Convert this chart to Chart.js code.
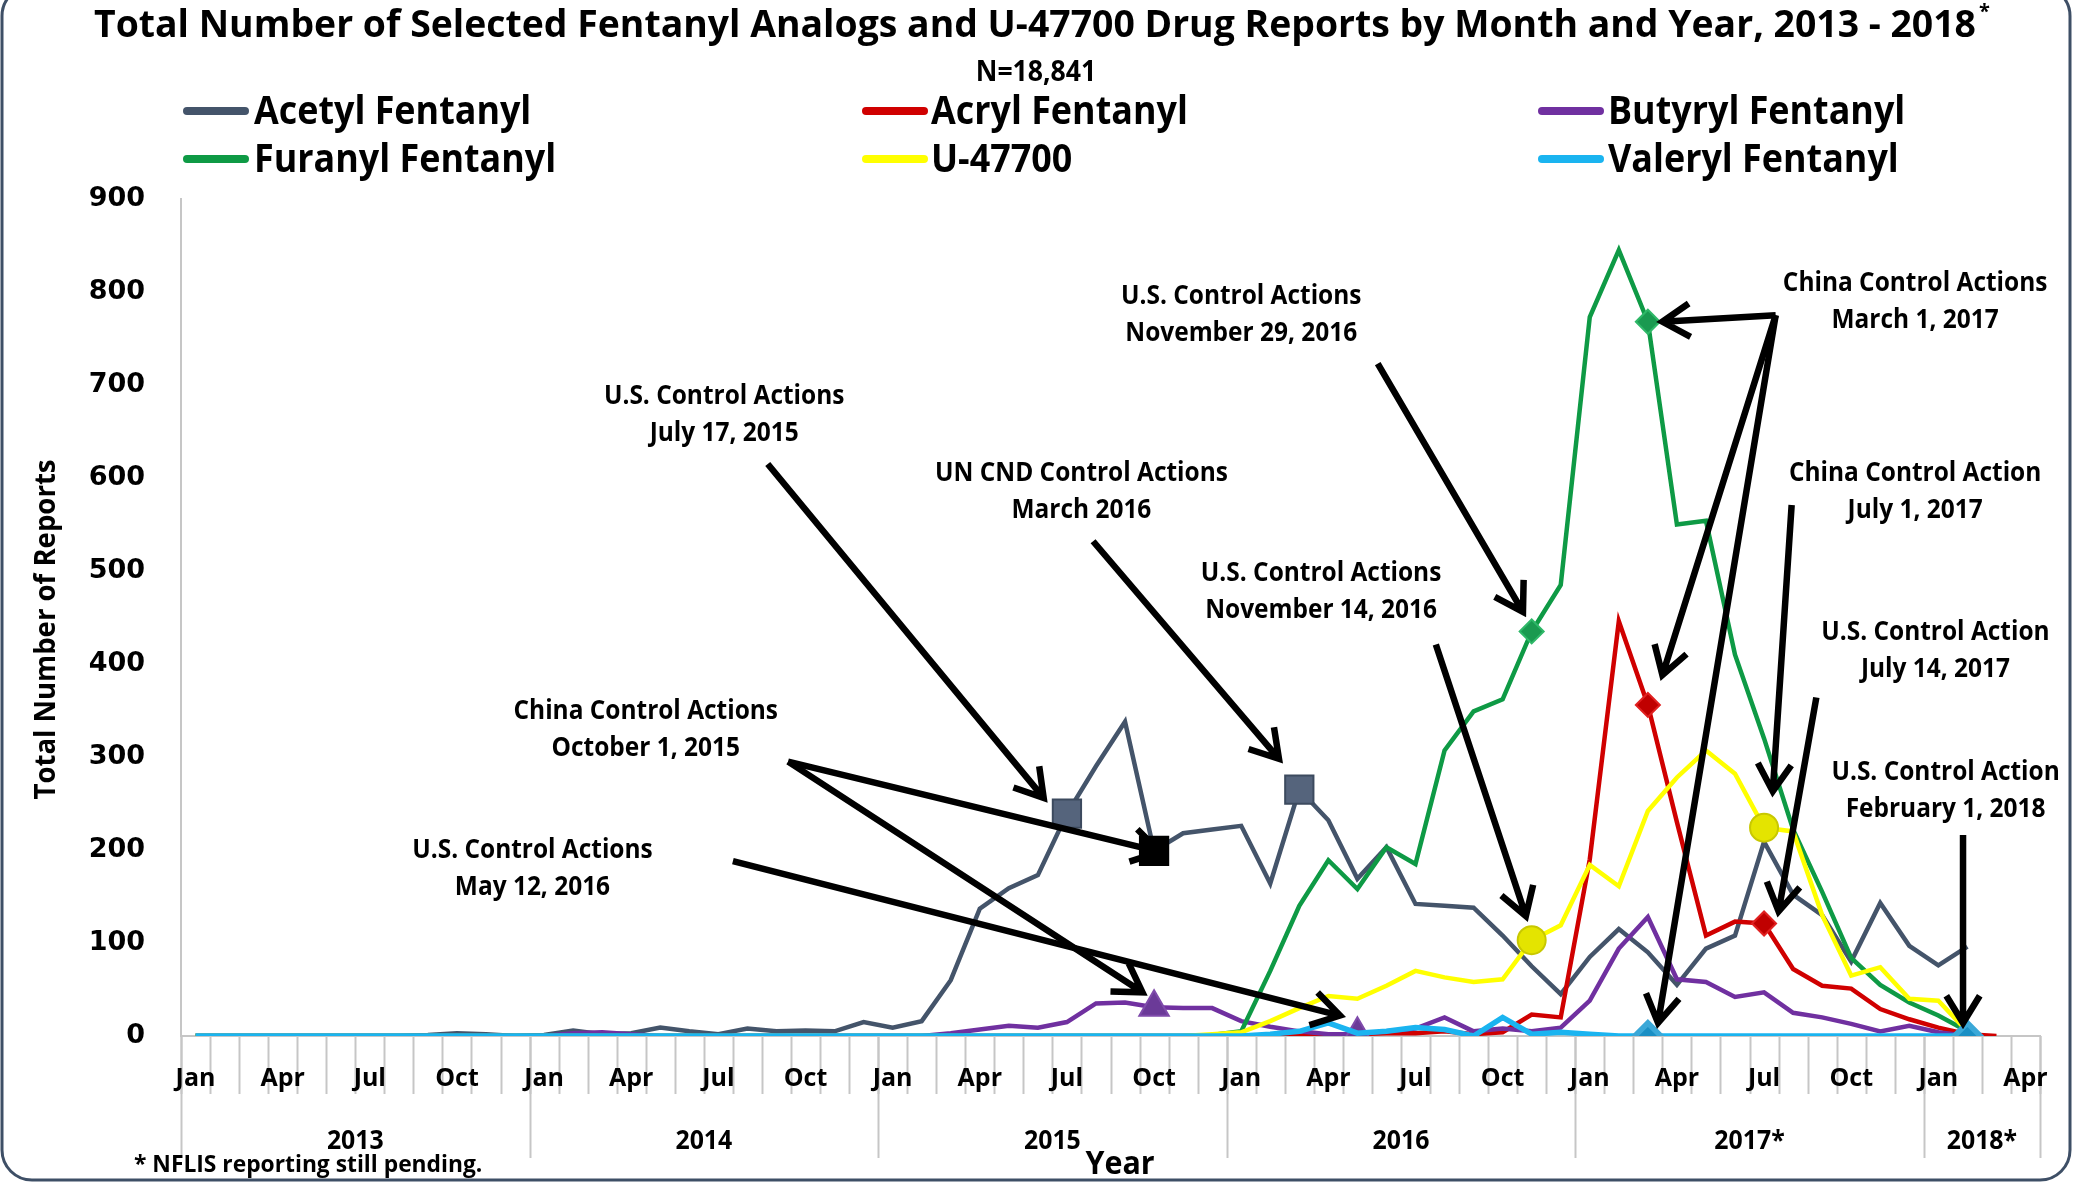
<!DOCTYPE html>
<html>
<head>
<meta charset="utf-8">
<title>Fentanyl Analogs and U-47700 Drug Reports</title>
<script src="https://cdn.jsdelivr.net/npm/chart.js@4.4.1/dist/chart.umd.min.js"></script>
<style>
  html, body { margin: 0; padding: 0; background: #fff; }
</style>
</head>
<body>
<canvas id="graph1" width="2082" height="1185"></canvas>
<script>
// categories: one per month, Jan 2013 - Apr 2018
var monthNames = ['Jan', 'Feb', 'Mar', 'Apr', 'May', 'Jun', 'Jul', 'Aug', 'Sep', 'Oct', 'Nov', 'Dec'];
var years = ['2013', '2014', '2015', '2016', '2017*', '2018*'];
var yearMonths = [12, 12, 12, 12, 12, 4];
var tickMonths = ['Jan', 'Apr', 'Jul', 'Oct'];

// monthly report counts
var acetyl = [0, 0, 0, 0, 0, 0, 0, 0, 1, 3, 2, 0,
  1, 6, 2, 3, 9, 5, 2, 8, 5, 6, 5, 15,
  9, 16, 60, 137, 159, 173, 239, 290, 338, 199, 218, 222,
  226, 164, 265, 232, 169, 203, 142, 140, 138, 108, 75, 45,
  85, 115, 90, 55, 94, 108, 209, 152, 130, 80, 143, 97,
  76, 96, null, null];
var acryl = [0, 0, 0, 0, 0, 0, 0, 0, 0, 0, 0, 0,
  0, 0, 0, 0, 0, 0, 0, 0, 0, 0, 0, 0,
  0, 0, 0, 0, 0, 0, 0, 0, 0, 0, 0, 0,
  0, 0, 0, 2, 2, 3, 3, 5, 2, 4, 23, 20,
  190, 446, 356, 230, 108, 123, 121, 72, 54, 51, 29, 18,
  9, 2, 0, null];
var butyryl = [0, 0, 0, 0, 0, 0, 0, 0, 0, 0, 0, 0,
  0, 3, 4, 2, 0, 0, 0, 0, 0, 0, 0, 0,
  0, 0, 3, 7, 11, 9, 15, 35, 36, 31, 30, 30,
  16, 10, 5, 2, 2, 5, 8, 20, 5, 8, 5, 9,
  38, 94, 128, 61, 58, 42, 47, 25, 20, 13, 5, 11,
  4, 0, null, null];
var furanyl = [0, 0, 0, 0, 0, 0, 0, 0, 0, 0, 0, 0,
  0, 0, 0, 0, 0, 0, 0, 0, 0, 0, 0, 0,
  0, 0, 0, 0, 0, 0, 0, 0, 0, 0, 0, 1,
  5, 70, 140, 189, 158, 203, 185, 307, 349, 362, 435, 485,
  773, 845, 768, 550, 554, 410, 320, 222, 155, 84, 55, 36,
  22, 5, null, null];
var u47700 = [0, 0, 0, 0, 0, 0, 0, 0, 0, 0, 0, 0,
  0, 0, 0, 0, 0, 0, 0, 0, 0, 0, 0, 0,
  0, 0, 0, 0, 0, 0, 0, 0, 0, 0, 0, 2,
  4, 16, 30, 43, 40, 54, 70, 63, 58, 61, 103, 119,
  184, 161, 242, 278, 307, 282, 224, 220, 130, 65, 74, 40,
  38, 5, null, null];
var valeryl = [0, 0, 0, 0, 0, 0, 0, 0, 0, 0, 0, 0,
  0, 0, 0, 0, 0, 0, 0, 0, 0, 0, 0, 0,
  0, 0, 0, 0, 0, 0, 0, 0, 0, 0, 0, 0,
  0, 2, 5, 14, 3, 5, 9, 7, 0, 20, 2, 4,
  2, 0, 0, 0, 0, 0, 0, 0, 0, 0, 0, 0,
  0, 0, null, null];

// months (category index) that carry a marker
var acetylMarks = [30, 38];
var acetylKeyMarks = [33];
var butyrylMarks = [33, 40];
var furanylMarks = [46, 50];
var u47700Marks = [46, 54];
var acrylMarks = [50, 54];
var valerylMarks = [50, 61];

// control action notes: text centre and arrows, in [month index, reports]
var notes = [
  { text: ['U.S. Control Actions', 'July 17, 2015'], at: [18.2, 668], arrows: [[19.7, 615, 29.2, 256]] },
  { text: ['UN CND Control Actions', 'March 2016'], at: [30.5, 585], arrows: [[30.9, 532, 37.3, 298]] },
  { text: ['U.S. Control Actions', 'November 29, 2016'], at: [36.0, 775], arrows: [[40.7, 723, 45.7, 456]] },
  { text: ['U.S. Control Actions', 'November 14, 2016'], at: [38.75, 477], arrows: [[42.7, 421, 45.8, 129]] },
  { text: ['China Control Actions', 'October 1, 2015'], at: [15.5, 329], arrows: [[20.4, 295, 33.2, 198], [20.4, 295, 32.6, 47]] },
  { text: ['U.S. Control Actions', 'May 12, 2016'], at: [11.6, 180], arrows: [[18.5, 188, 39.4, 22]] },
  { text: ['China Control Actions', 'March 1, 2017'], at: [59.2, 789], arrows: [[54.4, 775, 50.5, 768], [54.4, 775, 50.5, 388], [54.4, 775, 50.35, 14]] },
  { text: ['China Control Action', 'July 1, 2017'], at: [59.2, 585], arrows: [[54.95, 571, 54.3, 263]] },
  { text: ['U.S. Control Action', 'July 14, 2017'], at: [59.9, 414], arrows: [[55.8, 364, 54.5, 134]] },
  { text: ['U.S. Control Action', 'February 1, 2018'], at: [60.25, 263], arrows: [[60.85, 216, 60.85, 14]] }
];

var categories = [];
for (var k = 0; k < years.length; k++) {
  for (var m = 0; m < yearMonths[k]; m++) categories.push(monthNames[m]);
}

function sizesAt(marks, r) {
  return categories.map(function (c, i) { return marks.indexOf(i) >= 0 ? r : 0; });
}

var FONT = "'Open Sans', 'Noto Sans', sans-serif";

function arrow(ctx, x1, y1, x2, y2) {
  var a = Math.atan2(y2 - y1, x2 - x1), h = 32, w = 0.55;
  ctx.beginPath();
  ctx.moveTo(x1, y1);
  ctx.lineTo(x2, y2);
  ctx.moveTo(x2 - h * Math.cos(a - w), y2 - h * Math.sin(a - w));
  ctx.lineTo(x2, y2);
  ctx.lineTo(x2 - h * Math.cos(a + w), y2 - h * Math.sin(a + w));
  ctx.stroke();
}

function squeezed(ctx, text, x, y, sx, align) {
  ctx.save();
  ctx.translate(x, y);
  ctx.scale(sx, 1);
  ctx.textAlign = align || 'center';
  ctx.fillText(text, 0, 0);
  ctx.restore();
}

var decorations = {
  id: 'decorations',
  beforeDraw: function (chart) {
    var ctx = chart.ctx, x = chart.scales.x, area = chart.chartArea;
    var half = (x.getPixelForValue(1) - x.getPixelForValue(0)) / 2;
    ctx.save();
    ctx.fillStyle = '#fff';
    ctx.fillRect(0, 0, chart.width, chart.height);
    ctx.strokeStyle = '#c6c6c6';
    ctx.lineWidth = 2;
    for (var i = 0; i <= categories.length; i++) {
      var px = Math.round(x.getPixelForValue(i) - half) + 0.5;
      ctx.beginPath();
      ctx.moveTo(px, area.bottom);
      ctx.lineTo(px, area.bottom + 58);
      ctx.stroke();
    }
    // year groups
    var start = 0;
    ctx.fillStyle = '#000';
    ctx.font = 'bold 27px ' + FONT;
    ctx.textBaseline = 'middle';
    for (var k = 0; k <= years.length; k++) {
      var bx = Math.round(x.getPixelForValue(start) - half) + 0.5;
      ctx.beginPath();
      ctx.moveTo(bx, area.bottom);
      ctx.lineTo(bx, area.bottom + 122);
      ctx.stroke();
      if (k < years.length) {
        var cx = (x.getPixelForValue(start) + x.getPixelForValue(start + yearMonths[k] - 1)) / 2;
        squeezed(ctx, years[k], cx, area.bottom + 105, 0.92);
        start += yearMonths[k];
      }
    }
    ctx.restore();
  },
  afterDatasetsDraw: function (chart) {
    var ctx = chart.ctx, x = chart.scales.x, y = chart.scales.y;
    ctx.save();
    ctx.strokeStyle = '#000';
    ctx.lineWidth = 6.5;
    notes.forEach(function (n) {
      n.arrows.forEach(function (a) {
        arrow(ctx, x.getPixelForValue(a[0]), y.getPixelForValue(a[1]),
          x.getPixelForValue(a[2]), y.getPixelForValue(a[3]));
      });
    });
    ctx.fillStyle = '#000';
    ctx.font = 'bold 26px ' + FONT;
    ctx.textBaseline = 'middle';
    notes.forEach(function (n) {
      var cx = x.getPixelForValue(n.at[0]), cy = y.getPixelForValue(n.at[1]);
      squeezed(ctx, n.text[0], cx, cy - 18.5, 0.94);
      squeezed(ctx, n.text[1], cx, cy + 18.5, 0.94);
    });
    ctx.restore();
  },
  afterDraw: function (chart) {
    var ctx = chart.ctx, area = chart.chartArea;
    ctx.save();
    ctx.fillStyle = '#000';
    ctx.textBaseline = 'alphabetic';
    // title
    var title = 'Total Number of Selected Fentanyl Analogs and U-47700 Drug Reports by Month and Year, 2013 - 2018';
    ctx.font = 'bold 38px ' + FONT;
    var tw = ctx.measureText(title).width, sx = 1882 / tw;
    squeezed(ctx, title, 1035, 37, sx);
    ctx.font = 'bold 20px ' + FONT;
    ctx.fillText('*', 1035 + tw * sx / 2 + 3, 18);
    ctx.font = 'bold 28px ' + FONT;
    squeezed(ctx, 'N=18,841', 1036, 81, 0.95);
    // legend
    var colLine = [183, 862, 1538], colText = [254, 931, 1608], rowY = [111, 159];
    ctx.font = 'bold 39px ' + FONT;
    ctx.textBaseline = 'middle';
    chart.data.datasets.forEach(function (ds, i) {
      var c = i % 3, r = Math.floor(i / 3);
      ctx.strokeStyle = ds.borderColor;
      ctx.lineWidth = 8;
      ctx.lineCap = 'round';
      ctx.beginPath();
      ctx.moveTo(colLine[c] + 4, rowY[r]);
      ctx.lineTo(colLine[c] + 62, rowY[r]);
      ctx.stroke();
      squeezed(ctx, ds.label, colText[c], rowY[r] + 2, 0.92, 'left');
    });
    // axis titles and footnote
    ctx.save();
    ctx.translate(47, (area.top + area.bottom) / 2 + 12);
    ctx.rotate(-Math.PI / 2);
    ctx.font = 'bold 29px ' + FONT;
    squeezed(ctx, 'Total Number of Reports', 0, 0, 0.95);
    ctx.restore();
    ctx.font = 'bold 32px ' + FONT;
    squeezed(ctx, 'Year', 1120, 1165, 0.95);
    ctx.font = 'bold 24px ' + FONT;
    squeezed(ctx, '* NFLIS reporting still pending.', 134, 1165, 0.95, 'left');
    // rounded frame
    ctx.strokeStyle = '#3e4f66';
    ctx.lineWidth = 3;
    ctx.beginPath();
    ctx.roundRect(2, -14, 2068, 1194, 30);
    ctx.stroke();
    ctx.restore();
  }
};

var ctx = document.getElementById('graph1').getContext('2d');
var chart = new Chart(ctx, {
  type: 'line',
  data: {
    labels: categories,
    datasets: [{
      label: 'Acetyl Fentanyl',
      data: acetyl,
      borderColor: '#44546a',
      order: 5,
      pointStyle: 'rect',
      pointRadius: categories.map(function (c, i) {
        return acetylMarks.indexOf(i) >= 0 || acetylKeyMarks.indexOf(i) >= 0 ? 20 : 0;
      }),
      pointBackgroundColor: categories.map(function (c, i) {
        return acetylKeyMarks.indexOf(i) >= 0 ? '#000' : '#55647c';
      }),
      pointBorderColor: categories.map(function (c, i) {
        return acetylKeyMarks.indexOf(i) >= 0 ? '#000' : '#3c4a5e';
      })
    }, {
      label: 'Acryl Fentanyl',
      data: acryl,
      borderColor: '#d00000',
      order: 4,
      pointStyle: 'rectRot',
      pointRadius: sizesAt(acrylMarks, 12),
      pointBackgroundColor: '#c00000',
      pointBorderColor: '#e02020'
    }, {
      label: 'Butyryl Fentanyl',
      data: butyryl,
      borderColor: '#7030a0',
      order: 3,
      pointStyle: 'triangle',
      pointRadius: sizesAt(butyrylMarks, 17),
      pointBackgroundColor: '#6b3a98',
      pointBorderColor: '#7f4bab'
    }, {
      label: 'Furanyl Fentanyl',
      data: furanyl,
      borderColor: '#0e9a45',
      order: 2,
      pointStyle: 'rectRot',
      pointRadius: sizesAt(furanylMarks, 12),
      pointBackgroundColor: '#1a9a50',
      pointBorderColor: '#2fb868'
    }, {
      label: 'U-47700',
      data: u47700,
      borderColor: '#ffff00',
      order: 1,
      pointStyle: 'circle',
      pointRadius: sizesAt(u47700Marks, 14),
      pointBackgroundColor: '#e4e400',
      pointBorderColor: '#c8c800'
    }, {
      label: 'Valeryl Fentanyl',
      data: valeryl,
      borderColor: '#1ab4f0',
      order: 0,
      borderWidth: 5.5,
      pointStyle: 'rectRot',
      pointRadius: sizesAt(valerylMarks, 13),
      pointBackgroundColor: '#1a8fc4',
      pointBorderColor: '#3aa8d8'
    }]
  },
  options: {
    responsive: false,
    animation: false,
    devicePixelRatio: 1,
    layout: { padding: { left: 31, top: 199, right: 42, bottom: 30 } },
    elements: {
      line: { borderWidth: 4.5, tension: 0, borderJoinStyle: 'miter' },
      point: { borderWidth: 2, hitRadius: 0 }
    },
    plugins: {
      legend: { display: false },
      title: { display: false },
      tooltip: { enabled: false }
    },
    scales: {
      x: {
        offset: true,
        grid: { display: false, drawTicks: false, offset: true },
        border: { display: true, color: '#c6c6c6', width: 2 },
        ticks: {
          autoSkip: false,
          maxRotation: 0,
          padding: 28,
          color: '#000',
          font: { family: FONT, size: 25, weight: 'bold' },
          callback: function (v) {
            var name = categories[v];
            return tickMonths.indexOf(name) >= 0 ? name : '';
          }
        },
        afterFit: function (scale) { scale.height = 119; }
      },
      y: {
        min: 0,
        max: 900,
        grid: { display: false, drawTicks: false },
        border: { display: true, color: '#c6c6c6', width: 2 },
        ticks: {
          stepSize: 100,
          padding: 36,
          color: '#000',
          font: { family: "'DejaVu Sans', sans-serif", size: 27, weight: 'bold' }
        },
        afterFit: function (scale) { scale.width = 150; }
      }
    }
  },
  plugins: [decorations]
});
</script>
</body>
</html>
